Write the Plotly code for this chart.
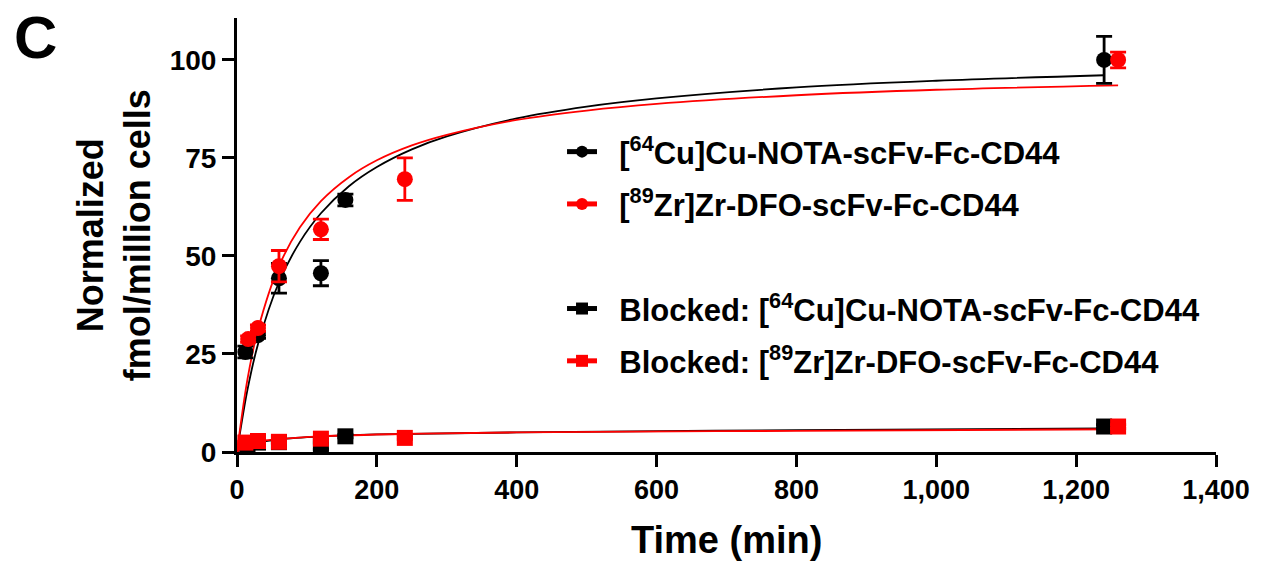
import plotly.graph_objects as go

# ---------------- data ----------------
cu_time = [12, 30, 60, 120, 155, 1240]
cu_val = [25.5, 29.8, 44.3, 45.6, 64.3, 100.0]
cu_err = [1.5, 0.8, 3.8, 3.2, 1.5, 6.0]

zr_time = [16, 30, 60, 120, 240, 1260]
zr_val = [28.8, 31.6, 47.4, 56.8, 69.6, 100.0]
zr_err = [0.8, 0.8, 4.0, 2.6, 5.4, 2.0]

cu_blk_time = [15, 30, 60, 120, 155, 1240]
cu_blk_val = [2.0, 2.4, 2.5, 1.5, 4.0, 6.5]
cu_blk_err = [0.3, 0.3, 0.3, 0.8, 0.4, 0.5]

zr_blk_time = [12, 30, 60, 120, 240, 1260]
zr_blk_val = [2.4, 2.8, 2.6, 3.4, 3.6, 6.5]
zr_blk_err = [0.3, 0.3, 0.3, 0.4, 0.4, 0.5]

# fitted curves
cu_fit_time = [0, 15, 30, 60, 90, 120, 160, 200, 250, 300, 400, 500, 600, 800, 1000, 1240]
cu_fit_val = [0, 15.9, 27.5, 43.3, 53.6, 60.9, 67.8, 72.7, 77.2, 80.5, 85.1, 88.1, 90.2, 93.0, 94.7, 96.1]
zr_fit_time = [0, 15, 30, 60, 90, 120, 160, 200, 250, 300, 400, 500, 600, 800, 1000, 1260]
zr_fit_val = [0, 18.6, 31.2, 47.4, 57.3, 64.0, 70.1, 74.4, 78.2, 80.9, 84.7, 87.1, 88.8, 91.0, 92.4, 93.5]
cu_blk_fit_time = [0, 15, 30, 60, 120, 200, 400, 800, 1240]
cu_blk_fit_val = [0, 1.5, 2.3, 3.2, 4.0, 4.5, 5.0, 5.6, 6.0]
zr_blk_fit_time = [0, 15, 30, 60, 120, 240, 400, 800, 1260]
zr_blk_fit_val = [0, 2.0, 2.7, 3.3, 4.0, 4.6, 5.0, 5.4, 5.8]

x_ticks = [0, 200, 400, 600, 800, 1000, 1200, 1400]
y_ticks = [0, 25, 50, 75, 100]

legend_names = [
    "  [<sup>64</sup>Cu]Cu-NOTA-scFv-Fc-CD44",
    "  [<sup>89</sup>Zr]Zr-DFO-scFv-Fc-CD44",
    "  Blocked: [<sup>64</sup>Cu]Cu-NOTA-scFv-Fc-CD44",
    "  Blocked: [<sup>89</sup>Zr]Zr-DFO-scFv-Fc-CD44",
]

BLACK = "#000000"
RED = "#FF0000"
FONT = "Liberation Sans, Arial, sans-serif"

fig = go.Figure()

# fit curves
for t, v, c in [(cu_fit_time, cu_fit_val, BLACK), (zr_fit_time, zr_fit_val, RED),
                (cu_blk_fit_time, cu_blk_fit_val, BLACK), (zr_blk_fit_time, zr_blk_fit_val, RED)]:
    fig.add_trace(go.Scatter(x=t, y=v, mode="lines", line=dict(color=c, width=1.8, shape="spline"),
                             showlegend=False, hoverinfo="skip", cliponaxis=False))

# data points
def pts(t, v, e, c, sym):
    return go.Scatter(x=t, y=v, mode="markers",
                      marker=dict(color=c, size=16, symbol=sym, line=dict(width=0)),
                      error_y=dict(type="data", array=e, color=c, thickness=2.8, width=8, visible=True),
                      showlegend=False, cliponaxis=False)

fig.add_trace(pts(cu_blk_time, cu_blk_val, cu_blk_err, BLACK, "square"))
fig.add_trace(pts(zr_blk_time, zr_blk_val, zr_blk_err, RED, "square"))
fig.add_trace(pts(cu_time, cu_val, cu_err, BLACK, "circle"))
fig.add_trace(pts(zr_time, zr_val, zr_err, RED, "circle"))

# legend entries
legend_specs = [(legend_names[0], BLACK, "circle", "g1"),
                (legend_names[1], RED, "circle", "g2"),
                (" ", "rgba(0,0,0,0)", "circle", "g3"),
                (legend_names[2], BLACK, "square", "g4"),
                (legend_names[3], RED, "square", "g5")]
for name, c, sym, g in legend_specs:
    fig.add_trace(go.Scatter(x=[None], y=[None], mode="lines+markers", name=name, legendgroup=g,
                             line=dict(color=c, width=2), marker=dict(color=c, symbol=sym, size=12)))

fig.update_layout(
    width=1262, height=561, autosize=False,
    margin=dict(l=237, r=43, t=18, b=109, pad=0),
    paper_bgcolor="white", plot_bgcolor="white",
    font=dict(family=FONT, color="black"),
    showlegend=True,
    legend=dict(x=0.332, y=0.7535, xanchor="left", yanchor="top", bgcolor="rgba(0,0,0,0)",
                font=dict(family=FONT, size=31, color="black", weight="bold"),
                traceorder="grouped", tracegroupgap=9, itemsizing="constant", itemwidth=30),
    xaxis=dict(range=[0, 1400], tickvals=x_ticks, tickformat=",d", showgrid=False, zeroline=False,
               showline=True, linecolor="black", linewidth=3, ticks="outside", ticklen=12, tickwidth=3,
               tickcolor="black", tickfont=dict(family=FONT, size=27, weight="bold")),
    yaxis=dict(range=[0, 110.7], tickvals=y_ticks, showgrid=False, zeroline=False,
               showline=True, linecolor="black", linewidth=3, ticks="outside", ticklen=12, tickwidth=3,
               tickcolor="black", tickfont=dict(family=FONT, size=28, weight="bold")),
    annotations=[
        dict(text="<b>Time (min)</b>", xref="paper", yref="paper", x=0.5, y=-0.2028,
             xanchor="center", yanchor="middle", showarrow=False, font=dict(family=FONT, size=38)),
        dict(text="<b>Normalized<br>fmol/million cells</b>", xref="paper", yref="paper", x=-0.1253, y=0.5,
             xanchor="center", yanchor="middle", textangle=-90, showarrow=False,
             font=dict(family=FONT, size=36)),
        dict(text="<b>C</b>", xref="paper", yref="paper", x=-0.2057, y=0.954,
             xanchor="center", yanchor="middle", showarrow=False, font=dict(family=FONT, size=60)),
    ],
)

fig.write_html("out.html")
